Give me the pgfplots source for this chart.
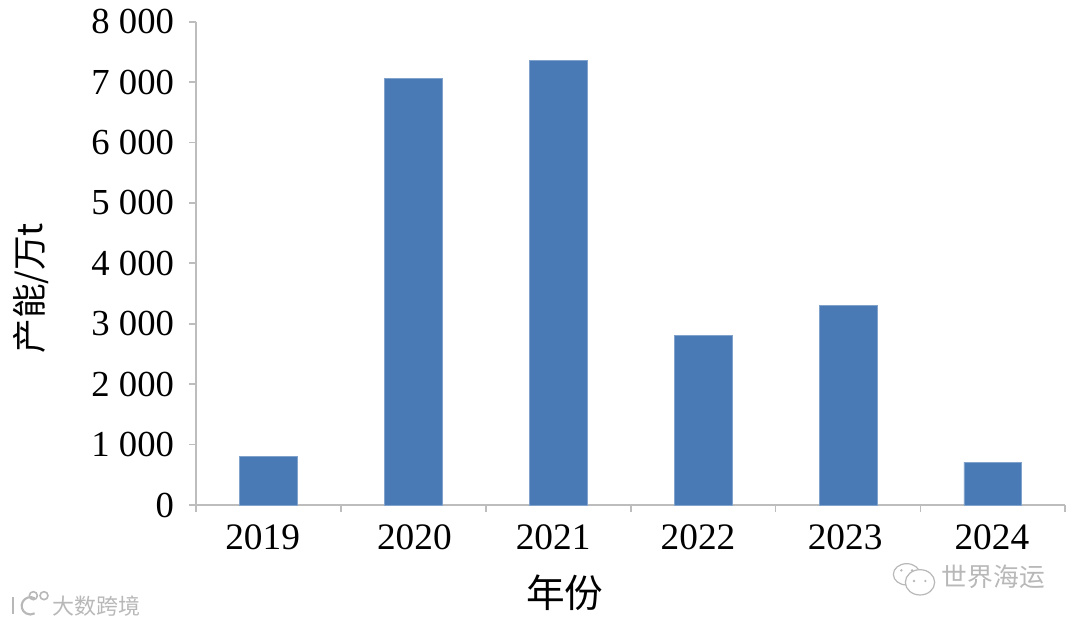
\documentclass[border=0pt]{standalone}
\usepackage{pgfplots}
\pgfplotsset{compat=1.18}
\usepackage{fontspec}
\setmainfont{Liberation Serif}
\newfontfamily\cjk{Noto Sans CJK SC}
\definecolor{barblue}{HTML}{4A7AB5}
\definecolor{axisgray}{HTML}{BDBDBD}
\definecolor{wm}{HTML}{B8B8B8}
\begin{document}
\begin{tikzpicture}[x=1pt,y=1pt]
\path[use as bounding box] (0,0) rectangle (810,468.75);
\begin{axis}[
  at={(147pt,90pt)},anchor=south west,
  width=652pt,height=362.5pt,scale only axis,
  xmin=-0.5,xmax=5.5,ymin=0,ymax=8000,
  axis x line=bottom,axis y line=left,
  axis line style={axisgray,line width=2pt,-},
  xtick={-0.5,0.5,1.5,2.5,3.5,4.5,5.5},xticklabels={},
  extra x ticks={-0.04,1.007,1.965,2.965,3.98,4.993},
  extra x tick labels={2019,2020,2021,2022,2023,2024},
  extra x tick style={major tick length=0pt,tick label style={font=\fontsize{28}{28}\selectfont,yshift=-11.5pt}},
  ytick={0,1000,...,8000},
  yticklabels={0,1 000,2 000,3 000,4 000,5 000,6 000,7 000,8 000},
  yticklabel style={font=\fontsize{27.5}{27.5}\selectfont,xshift=-8pt},
  tick style={axisgray,line width=1.3pt},
  major tick length=5pt,
  tick align=outside,
  clip=false,
]
\addplot[ybar,bar width=0.4,fill=barblue,draw=barblue!70!white,line width=0.6pt] coordinates {(0,810)(1,7060)(2,7360)(3,2810)(4,3300)(5,710)};
\end{axis}
\node[font=\cjk\fontsize{26}{26}\selectfont,rotate=90] at (23,252.5) {产能/万t};
\node[font=\cjk\fontsize{29}{29}\selectfont] at (423.5,24) {年份};
\node[font=\cjk\fontsize{16.5}{16.5}\selectfont,text=wm] at (72,14) {大数跨境};
\draw[wm,line width=1.6pt] (10,8) -- (10,21);
\draw[wm,line width=1.6pt] (26,20) arc (60:300:6.5);
\draw[wm,line width=1.2pt] (25,22) circle (3);
\draw[wm,line width=1.2pt] (33,22) circle (3);
\node[font=\cjk\fontsize{19.3}{19.3}\selectfont,text=wm] at (745,36) {世界海运};
\draw[wm,line width=0.9pt] (680,38) ellipse (10 and 8);
\draw[wm,line width=0.9pt,fill=white] (690,32) ellipse (11 and 9.5);
\fill[wm] (685.5,33) circle (1) (694,33) circle (1) (676,41) circle (1) (684,41) circle (1);
\end{tikzpicture}
\end{document}
